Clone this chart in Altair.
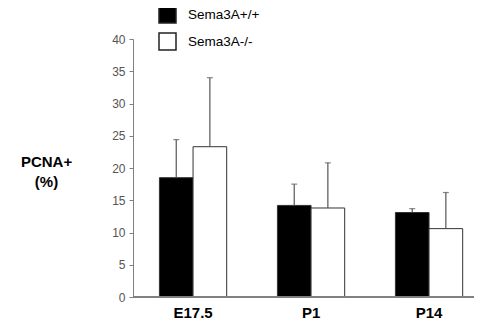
import altair as alt
import pandas as pd

stages = ["E17.5", "P1", "P14"]
groups = ["Sema3A+/+", "Sema3A-/-"]
wt_mean = [18.5, 14.2, 13.1]
wt_err = [5.9, 3.3, 0.6]
ko_mean = [23.3, 13.8, 10.6]
ko_err = [10.7, 7.0, 5.6]
y_ticks = [0, 5, 10, 15, 20, 25, 30, 35, 40]

rows = []
for i, s in enumerate(stages):
    rows.append({"stage": s, "group": groups[0], "mean": wt_mean[i], "upper": wt_mean[i] + wt_err[i]})
    rows.append({"stage": s, "group": groups[1], "mean": ko_mean[i], "upper": ko_mean[i] + ko_err[i]})
df = pd.DataFrame(rows)

font = "Liberation Sans"
xenc = alt.X("stage:N", sort=stages,
             scale=alt.Scale(paddingInner=0.43, paddingOuter=0.16, align=0.7),
             axis=alt.Axis(title=None, labelAngle=0, domain=False, ticks=False,
                           labelFont=font, labelFontSize=15, labelFontWeight="bold",
                           labelColor="black", labelPadding=8))
xo = alt.XOffset("group:N", sort=groups)

yscale = alt.Scale(domain=[0, 40], nice=False)
yaxis = alt.Axis(values=y_ticks, grid=False, domainColor="#808080",
                 tickColor="#808080", tickSize=4, labelFont=font, labelFontSize=12,
                 labelColor="#555555", labelPadding=4, labelOverlap=False,
                 labelFlush=False,
                 title=["PCNA+", "(%)"], titleAngle=0, titleFont=font,
                 titleFontSize=15, titleFontWeight="bold", titleColor="black",
                 titleX=-87, titleY=127, titleAlign="center", titleBaseline="alphabetic",
                 titleLineHeight=20)

bars = alt.Chart(df).mark_bar(stroke="#333333", strokeWidth=1).encode(
    x=xenc, xOffset=xo,
    y=alt.Y("mean:Q", scale=yscale, axis=yaxis),
    fill=alt.Fill("group:N", sort=groups,
                  scale=alt.Scale(domain=groups, range=["black", "white"]),
                  legend=alt.Legend(title=None, orient="none", legendX=25, legendY=-34,
                                    symbolType="square", symbolSize=289,
                                    symbolStrokeColor="#222222", symbolStrokeWidth=1.5,
                                    labelFont=font, labelFontSize=13.5, labelColor="black",
                                    rowPadding=4, labelOffset=11)),
)

err = alt.Chart(df).mark_rule(color="#555555", strokeWidth=1.2).encode(
    x=xenc, xOffset=xo, y=alt.Y("mean:Q", scale=yscale, axis=yaxis), y2="upper:Q")
caps = alt.Chart(df).mark_tick(color="#555555", size=6, thickness=1.2).encode(
    x=xenc, xOffset=xo, y=alt.Y("upper:Q", scale=yscale, axis=yaxis))

baseline = alt.Chart(df).mark_rule(color="#808080", strokeWidth=1).encode(
    x=alt.value(0), x2=alt.value(341), y=alt.value(258))

chart = alt.layer(bars, err, caps, baseline).properties(
    width=341, height=258,
    autosize=alt.AutoSizeParams(type="none"),
    padding={"left": 125, "top": 31, "right": 0, "bottom": 23},
).configure_view(stroke=None).configure_axisX(domain=False)

chart.save("out.html", embed_options={"renderer": "svg", "actions": False})
